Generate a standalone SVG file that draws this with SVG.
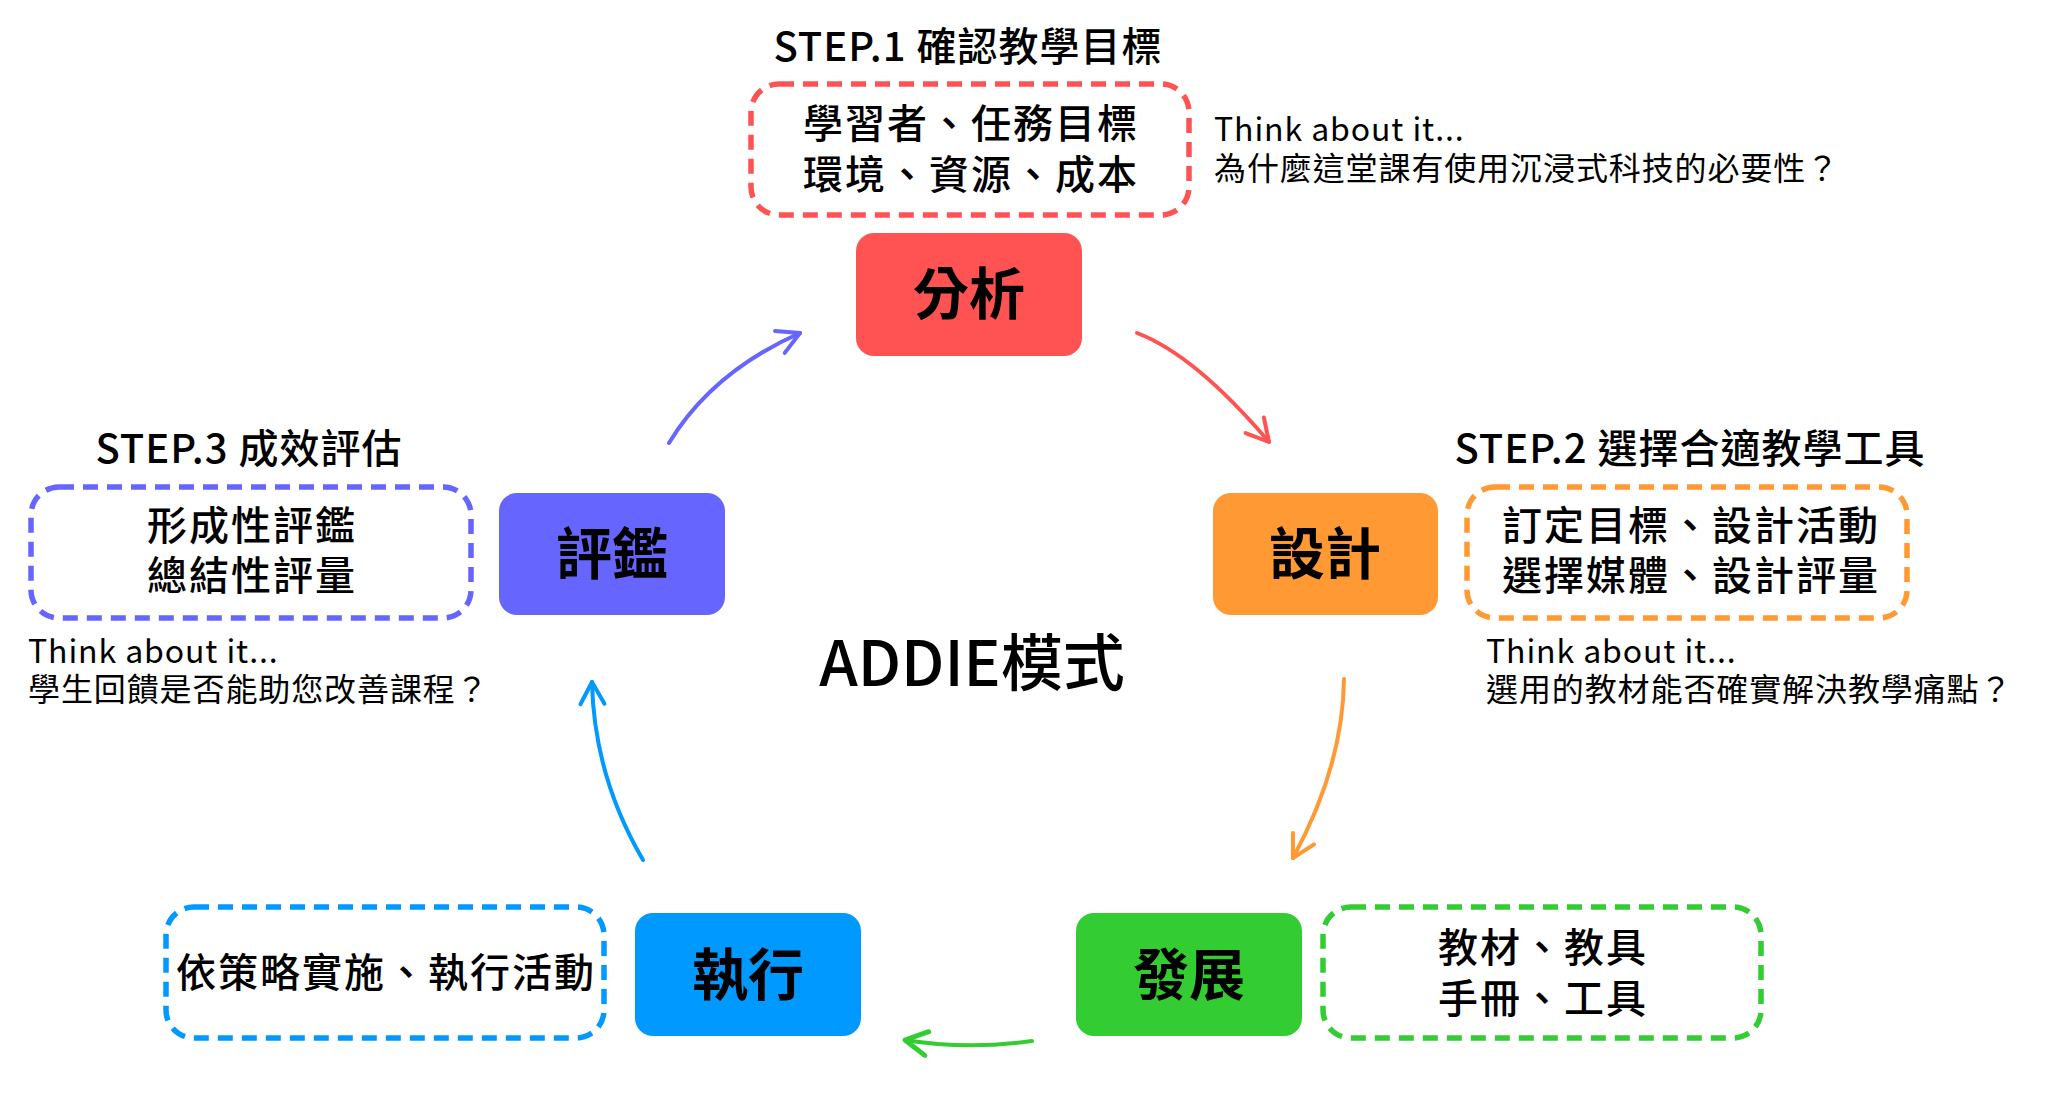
<svg xmlns="http://www.w3.org/2000/svg" width="2048" height="1107" viewBox="0 0 2048 1107">
<style>
text{font-family:"Noto Sans CJK TC","Noto Sans",sans-serif;fill:#000}
.title{font-size:40px;font-weight:500;text-anchor:middle;letter-spacing:1px}
.box{font-size:40px;font-weight:500;text-anchor:middle;letter-spacing:2px}
.lbl{font-size:56px;font-weight:700;text-anchor:middle}
.think{font-size:32px;font-weight:400;letter-spacing:0.9px}
.dash{fill:#fff;stroke-width:5.5;stroke-dasharray:15 9}
.arr{fill:none;stroke-width:4;stroke-linecap:round}
</style>
<defs>
<marker id="mR" markerUnits="userSpaceOnUse" markerWidth="40" markerHeight="40" refX="0" refY="0" viewBox="-30 -20 40 40" orient="auto"><path d="M-22,-12 L0,0 L-22,12" fill="none" stroke="#FF5353" stroke-width="4" stroke-linecap="round" stroke-linejoin="round"/></marker>
<marker id="mO" markerUnits="userSpaceOnUse" markerWidth="40" markerHeight="40" refX="0" refY="0" viewBox="-30 -20 40 40" orient="auto"><path d="M-22,-12 L0,0 L-22,12" fill="none" stroke="#FF9933" stroke-width="4" stroke-linecap="round" stroke-linejoin="round"/></marker>
<marker id="mG" markerUnits="userSpaceOnUse" markerWidth="40" markerHeight="40" refX="0" refY="0" viewBox="-30 -20 40 40" orient="auto"><path d="M-22,-12 L0,0 L-22,12" fill="none" stroke="#33CC33" stroke-width="5" stroke-linecap="round" stroke-linejoin="round"/></marker>
<marker id="mB" markerUnits="userSpaceOnUse" markerWidth="40" markerHeight="40" refX="0" refY="0" viewBox="-30 -20 40 40" orient="auto"><path d="M-22,-12 L0,0 L-22,12" fill="none" stroke="#0099FF" stroke-width="4" stroke-linecap="round" stroke-linejoin="round"/></marker>
<marker id="mP" markerUnits="userSpaceOnUse" markerWidth="40" markerHeight="40" refX="0" refY="0" viewBox="-30 -20 40 40" orient="auto"><path d="M-22,-12 L0,0 L-22,12" fill="none" stroke="#6666FF" stroke-width="4" stroke-linecap="round" stroke-linejoin="round"/></marker>
</defs>
<rect width="2048" height="1107" fill="#fff"/>

<g id="connectors">
<path class="arr" d="M1137,333 Q1195,355 1269,442" stroke="#FF5353" marker-end="url(#mR)"/>
<path class="arr" d="M1344,679 Q1343,766 1293,858" stroke="#FF9933" marker-end="url(#mO)"/>
<path class="arr" d="M1032,1041 Q966,1050 905,1040" stroke="#33CC33" stroke-width="5" marker-end="url(#mG)"/>
<path class="arr" d="M643,860 Q594,776 592,682" stroke="#0099FF" marker-end="url(#mB)"/>
<path class="arr" d="M669,443 Q712,372 800,333" stroke="#6666FF" marker-end="url(#mP)"/>
</g>

<g id="center-title">
<text x="972" y="686" font-size="62" font-weight="500" text-anchor="middle">ADDIE模式</text>
</g>

<g id="analysis">
<text class="title" x="968" y="61">STEP.1 確認教學目標</text>
<rect class="dash" x="751" y="84" width="438" height="131" rx="28" stroke="#FF5353"/>
<text class="box"><tspan x="971" y="138">學習者、任務目標</tspan><tspan x="971" y="189">環境、資源、成本</tspan></text>
<rect x="856" y="233" width="226" height="123" rx="18" fill="#FF5353"/>
<text class="lbl" x="969" y="314">分析</text>
<text class="think"><tspan x="1214" y="141">Think about it...</tspan><tspan x="1214" y="180">為什麼這堂課有使用沉浸式科技的必要性？</tspan></text>
</g>

<g id="design">
<text class="title" x="1690" y="463">STEP.2 選擇合適教學工具</text>
<rect class="dash" x="1467" y="487" width="440" height="131" rx="28" stroke="#FF9933"/>
<text class="box"><tspan x="1691" y="540">訂定目標、設計活動</tspan><tspan x="1691" y="590">選擇媒體、設計評量</tspan></text>
<rect x="1213" y="493" width="225" height="122" rx="18" fill="#FF9933"/>
<text class="lbl" x="1325" y="574">設計</text>
<text class="think"><tspan x="1486" y="663">Think about it...</tspan><tspan x="1486" y="701">選用的教材能否確實解決教學痛點？</tspan></text>
</g>

<g id="evaluation">
<text class="title" x="249" y="463">STEP.3 成效評估</text>
<rect class="dash" x="31" y="487" width="440" height="131" rx="28" stroke="#6666FF"/>
<text class="box"><tspan x="252" y="540">形成性評鑑</tspan><tspan x="252" y="590">總結性評量</tspan></text>
<rect x="499" y="493" width="226" height="122" rx="18" fill="#6666FF"/>
<text class="lbl" x="612" y="574">評鑑</text>
<text class="think"><tspan x="28" y="663">Think about it...</tspan><tspan x="28" y="701">學生回饋是否能助您改善課程？</tspan></text>
</g>

<g id="implementation">
<rect class="dash" x="166" y="907" width="438" height="131" rx="28" stroke="#0099FF"/>
<text class="box" x="386" y="987">依策略實施、執行活動</text>
<rect x="635" y="913" width="226" height="123" rx="18" fill="#0099FF"/>
<text class="lbl" x="748" y="995">執行</text>
</g>

<g id="development">
<rect x="1076" y="913" width="226" height="123" rx="18" fill="#33CC33"/>
<text class="lbl" x="1189" y="995">發展</text>
<rect class="dash" x="1323" y="907" width="438" height="131" rx="28" stroke="#33CC33"/>
<text class="box"><tspan x="1543" y="962">教材、教具</tspan><tspan x="1543" y="1013">手冊、工具</tspan></text>
</g>
</svg>
